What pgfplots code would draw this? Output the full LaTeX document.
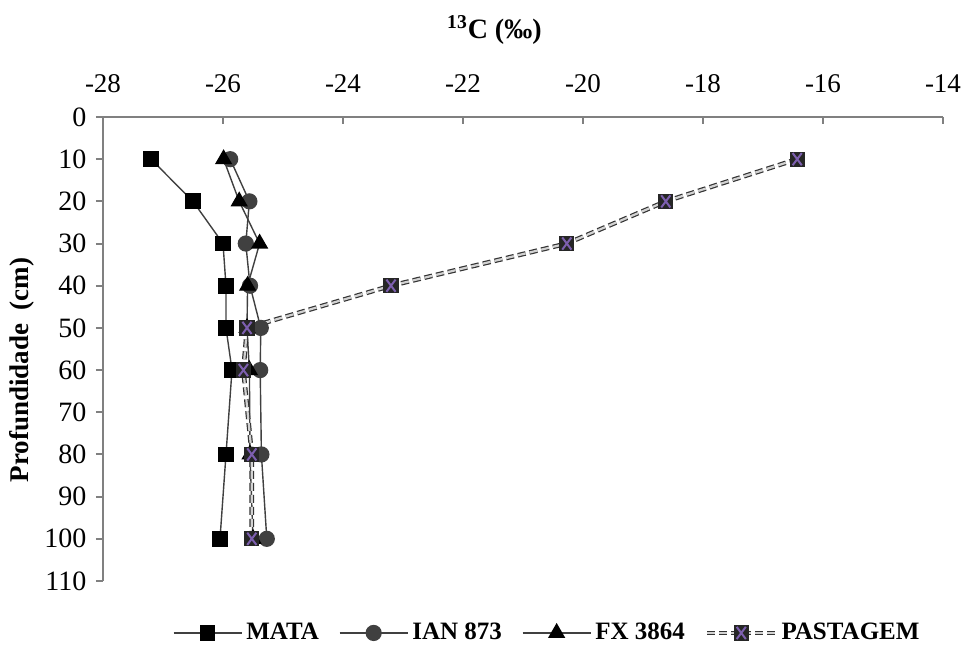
\documentclass[border=0pt]{standalone}
\usepackage{pgfplots}
\pgfplotsset{compat=1.18}
\usepackage{fontspec}
\setmainfont{Liberation Serif}
\definecolor{axgray}{RGB}{128,128,128}
\definecolor{lngray}{RGB}{64,64,64}
\definecolor{ppurple}{RGB}{125,95,175}
\pgfdeclareplotmark{sqx}{%
  \pgfpathrectangle{\pgfpoint{-\pgfplotmarksize}{-\pgfplotmarksize}}{\pgfpoint{2\pgfplotmarksize}{2\pgfplotmarksize}}%
  \pgfusepathqfill
  \pgfsetstrokecolor{ppurple}\pgfsetlinewidth{1pt}%
  \pgfpathmoveto{\pgfpoint{-0.6\pgfplotmarksize}{-0.8\pgfplotmarksize}}%
  \pgfpathlineto{\pgfpoint{0.6\pgfplotmarksize}{0.8\pgfplotmarksize}}%
  \pgfpathmoveto{\pgfpoint{-0.6\pgfplotmarksize}{0.8\pgfplotmarksize}}%
  \pgfpathlineto{\pgfpoint{0.6\pgfplotmarksize}{-0.8\pgfplotmarksize}}%
  \pgfusepathqstroke
}
\begin{document}
\begin{tikzpicture}
\useasboundingbox (-51.5pt,-32.5pt) rectangle (431.5pt,290.5pt);
\begin{axis}[
  scale only axis, width=420pt, height=232pt,
  xmin=-28, xmax=-14, ymin=0, ymax=110,
  y dir=reverse,
  axis x line=top, axis y line=left,
  axis line style={draw=axgray, line width=1pt, -},
  xtick={-28,-26,...,-14}, ytick={0,10,...,110},
  tick style={draw=axgray, line width=1pt},
  major tick length=3.5pt,
  tick align=center,
  every x tick/.append style={yshift=-1.75pt},
  every y tick/.append style={xshift=-1.75pt},
  /pgf/number format/assume math mode=true,
  xticklabel style={font=\fontsize{13.5}{15}\selectfont, yshift=7pt},
  yticklabel style={font=\fontsize{14}{16}\selectfont, xshift=-3pt},
  clip=false,
  every axis title shift=0pt,
  title={\textsuperscript{13}C (‰)},
  title style={at={(axis description cs:0.466,1.1875)}, anchor=center, font=\bfseries\fontsize{14}{16}\selectfont},
  ylabel={Profundidade\ \ (cm)},
  ylabel style={at={(axis description cs:-0.0964,0.455)}, anchor=center, font=\bfseries\fontsize{13.5}{15}\selectfont},
  legend style={at={(axis description cs:0.530,-0.112)}, anchor=center, draw=none, fill=none,
    legend columns=4, font=\bfseries\fontsize{12.5}{14}\selectfont,
    /tikz/every even column/.append style={column sep=8pt}},
  legend image code/.code={\draw[mark repeat=2,mark phase=2] plot coordinates {(0pt,0pt)(17pt,0pt)(34pt,0pt)};},
]
\addplot[lngray, line width=0.7pt, mark=square*, mark size=3.6pt, mark options={fill=black, draw=black, solid}]
  coordinates {(-27.2,10)(-26.5,20)(-26.0,30)(-25.95,40)(-25.95,50)(-25.85,60)(-25.95,80)(-26.05,100)};
\addlegendentry{MATA}
\addplot[lngray, line width=0.7pt, mark=*, mark size=3.7pt, mark options={fill=lngray, draw=lngray, solid}]
  coordinates {(-25.88,10)(-25.56,20)(-25.62,30)(-25.55,40)(-25.37,50)(-25.38,60)(-25.36,80)(-25.27,100)};
\addlegendentry{IAN 873}
\addplot[lngray, line width=0.7pt, mark=triangle*, mark size=4.3pt, mark options={fill=black, draw=black, solid}]
  coordinates {(-25.99,10)(-25.73,20)(-25.39,30)(-25.59,40)(-25.6,50)(-25.56,60)(-25.55,80)(-25.5,100)};
\addlegendentry{FX 3864}
\addplot[draw=black!80, line width=0.6pt, double=gray!35, double distance=1.1pt, dash pattern=on 4pt off 2pt,
  mark=sqx, mark size=3.8pt, mark options={fill=black!85, solid}]
  coordinates {(-16.43,10)(-18.62,20)(-20.27,30)(-23.2,40)(-25.6,50)(-25.66,60)(-25.52,80)(-25.52,100)};
\addlegendentry{PASTAGEM}
\end{axis}
\end{tikzpicture}
\end{document}
